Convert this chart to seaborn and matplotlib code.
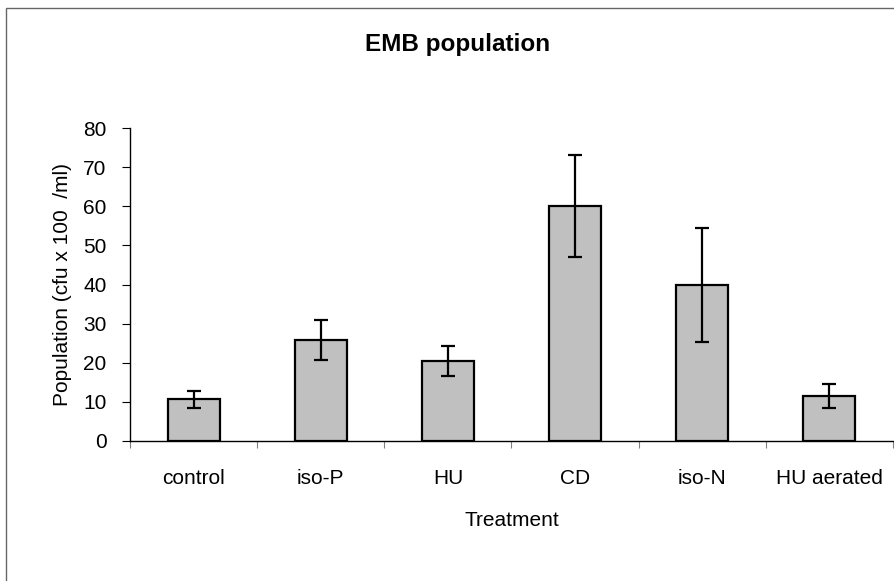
import numpy as np
import pandas as pd
import matplotlib
matplotlib.use('Agg')
import matplotlib.pyplot as plt
import matplotlib.patches as mpatches
import seaborn as sns

# data
treatments = ['control', 'iso-P', 'HU', 'CD', 'iso-N', 'HU aerated']
population = [10.7, 25.8, 20.5, 60.1, 39.9, 11.5]
errors = [2.2, 5.2, 3.8, 13.0, 14.6, 3.0]

df = pd.DataFrame({'Treatment': treatments, 'Population': population})

sns.set_style('white')
plt.rcParams['font.family'] = ['Liberation Sans', 'DejaVu Sans']
plt.rcParams['text.color'] = 'black'
plt.rcParams['axes.labelcolor'] = 'black'
plt.rcParams['xtick.color'] = 'black'
plt.rcParams['ytick.color'] = 'black'

fig = plt.figure(figsize=(8.95, 5.81), dpi=100)
ax = fig.add_axes([130/895, 1-441/581, 763/895, 313/581])

sns.barplot(data=df, x='Treatment', y='Population', color='#C0C0C0',
            edgecolor='black', linewidth=1.6, width=0.41, saturation=1,
            errorbar=None, ax=ax)
ax.errorbar(np.arange(len(treatments)), population, yerr=errors, fmt='none',
            ecolor='black', elinewidth=1.6, capsize=5, capthick=1.6)

ax.set_ylim(0, 80)
ax.set_xlim(-0.5, len(treatments) - 0.5)
ax.set_yticks(np.arange(0, 81, 10))
ax.set_xticks(np.arange(len(treatments)))
ax.set_xticklabels(treatments)
ax.set_xticks(np.arange(len(treatments) + 1) - 0.5, minor=True)
ax.tick_params(axis='x', which='major', length=0, labelsize=15, pad=20)
ax.tick_params(axis='x', which='minor', length=5, width=0.8, color='#808080',
               direction='out', bottom=True)
ax.tick_params(axis='y', length=6, width=0.8, direction='out', left=True,
               labelsize=15, pad=11)

ax.set_xlabel('Treatment', fontsize=15, labelpad=17)
ax.set_ylabel('Population (cfu x 100  /ml)', fontsize=15, labelpad=8)
fig.text(458/895, 1-44/581, 'EMB population', fontsize=17.5,
         fontweight='bold', ha='center', va='center')

sns.despine(ax=ax, top=True, right=True)
for s in ['left', 'bottom']:
    ax.spines[s].set_color('black')
    ax.spines[s].set_linewidth(1)

# outer chart frame
fig.patches.append(mpatches.Rectangle((6/895, -0.05), 1.2, (581-8)/581 + 0.05,
                                      transform=fig.transFigure, fill=False,
                                      edgecolor='#666666', linewidth=1))

plt.savefig('out.png', dpi=100)
